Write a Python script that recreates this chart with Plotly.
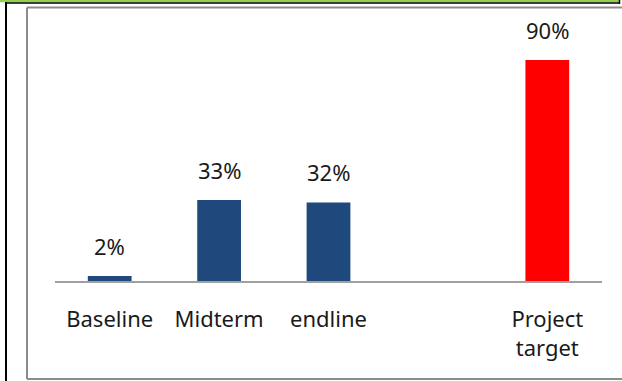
import plotly.graph_objects as go

categories = ["Baseline", "Midterm", "endline", " ", "Project<br>target"]
values = [2, 33, 32, None, 90]
labels = ["2%", "33%", "32%", "", "90%"]
colors = ["#1F497D", "#1F497D", "#1F497D", "#1F497D", "#FF0000"]

W, H = 622, 381
L, R, T, B = 55, 20, 10, 100
pw, ph = W - L - R, H - T - B
FONT = "Noto Sans"
FS = 22

def px(x):
    return (x - L) / pw

def py(y):
    return (H - B - y) / ph

fig = go.Figure()
fig.add_trace(go.Bar(
    x=categories, y=values, marker=dict(color=colors, line=dict(width=0)),
    width=0.4, hoverinfo="skip",
))

for c, v, t in zip(categories, values, labels):
    if v is None:
        continue
    fig.add_annotation(x=c, y=v, text=t, showarrow=False, yanchor="bottom",
                       yshift=13, font=dict(family=FONT, size=FS, color="#1a1a1a"))

shapes = [
    dict(type="line", xref="paper", yref="paper", x0=px(27), x1=px(622), y0=py(7.5), y1=py(7.5),
         line=dict(color="#8c8c8c", width=2), layer="below"),
    dict(type="line", xref="paper", yref="paper", x0=px(27), x1=px(622), y0=py(379), y1=py(379),
         line=dict(color="#8c8c8c", width=2), layer="below"),
    dict(type="line", xref="paper", yref="paper", x0=px(27), x1=px(27), y0=py(7.5), y1=py(379),
         line=dict(color="#8c8c8c", width=2), layer="below"),
    dict(type="rect", xref="paper", yref="paper", x0=px(0), x1=px(619), y0=py(2.3), y1=py(-1),
         line=dict(width=0), fillcolor="#92D050"),
    dict(type="line", xref="paper", yref="paper", x0=px(5), x1=px(620), y0=py(3), y1=py(3),
         line=dict(color="black", width=1.5)),
    dict(type="line", xref="paper", yref="paper", x0=px(6), x1=px(6), y0=py(2), y1=py(382),
         line=dict(color="black", width=2)),
    dict(type="line", xref="paper", yref="paper", x0=px(619.5), x1=px(619.5), y0=py(0), y1=py(4),
         line=dict(color="black", width=1.5)),
]

fig.update_layout(
    width=W, height=H, margin=dict(l=L, r=R, t=T, b=B, autoexpand=False),
    paper_bgcolor="white", plot_bgcolor="white", showlegend=False,
    bargap=0.6, shapes=shapes,
    font=dict(family=FONT, size=FS, color="#1a1a1a"),
)
fig.update_xaxes(showline=True, linecolor="#a0a0a0", linewidth=2, ticks="", showgrid=False,
                 tickfont=dict(family=FONT, size=FS, color="#1a1a1a"), ticklabelstandoff=18,
                 range=[-0.5, 4.5], fixedrange=True)
fig.update_yaxes(range=[0, 110.3], visible=False, showgrid=False, zeroline=False, fixedrange=True)

fig.write_html("out.html", config={"displayModeBar": False, "staticPlot": True},
               post_script="document.body.style.margin='0px';document.body.style.overflow='hidden';"
                           "document.documentElement.style.overflow='hidden';")
